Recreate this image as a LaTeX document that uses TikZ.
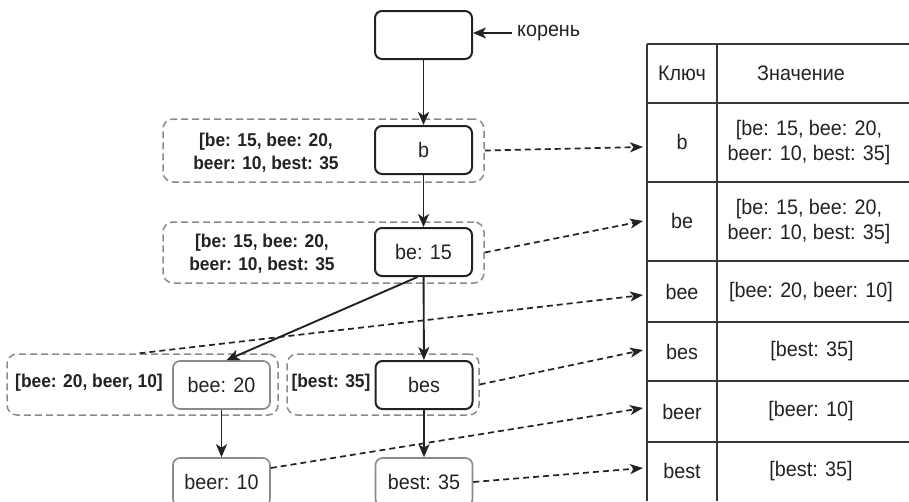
\documentclass[tikz,border=0pt]{standalone}
\usepackage{fontspec}
\setmainfont{Liberation Sans}[FakeStretch=0.94]
\usetikzlibrary{arrows.meta,calc}
\definecolor{boxgray}{HTML}{8A8A8A}
\definecolor{ink}{HTML}{222222}
\begin{document}
\begin{tikzpicture}[x=1pt,y=-1pt,
  txt/.style={font=\fontsize{21}{25}\selectfont, text=ink, align=center, inner sep=0pt},
  grptxt/.style={font=\fontsize{18.5}{23}\selectfont\bfseries, text=ink, align=center, inner sep=0pt},
  keybox/.style={draw=ink, line width=2pt, rounded corners=7pt, minimum width=97pt, minimum height=48pt,
    inner sep=0pt, font=\fontsize{21}{25}\selectfont, text=ink},
  leafbox/.style={keybox, draw=boxgray, line width=1.6pt},
  group/.style={draw=boxgray, line width=1.5pt, dash pattern=on 7pt off 4pt, rounded corners=10pt,
    inner sep=0pt},
  link/.style={draw=ink, line width=1.9pt, -{Stealth[length=13pt,width=11pt,inset=3.5pt]}},
  ref/.style={draw=ink, line width=1.7pt, dash pattern=on 6pt off 4pt, -{Stealth[length=13pt,width=10pt,inset=3.5pt]}},
  grid/.style={draw=ink!90, line width=1.5pt}]
\useasboundingbox (0,0) rectangle (909,501);
\clip (0,0) rectangle (909,501);

% dashed groups of each node's stored result
\node[group, minimum width=321pt, minimum height=63pt] (g1) at (323.5,150.5) {};
\node[group, minimum width=321pt, minimum height=61pt] (g2) at (323.5,252.5) {};
\node[group, minimum width=271pt, minimum height=61pt] (g3) at (142.5,384.5) {};
\node[group, minimum width=192pt, minimum height=61pt] (g4) at (383,384.5) {};

\node[grptxt] (g1t) at (266,153) {[be: 15, bee: 20,\\beer: 10, best: 35};
\node[grptxt] (g2t) at (262,254) {[be: 15, bee: 20,\\beer: 10, best: 35};
\node[grptxt] (g3t) at (89,383) {[bee: 20, beer, 10]};
\node[grptxt] (g4t) at (331,383) {[best: 35]};

% trie nodes
\node[keybox] (root) at (423.5,35) {};
\node[keybox] (b) at (423.5,150) {b};
\node[keybox] (be) at (423.5,252) {be: 15};
\node[leafbox] (bee) at (221.5,385) {bee: 20};
\node[keybox] (bes) at (424,385) {bes};
\node[leafbox] (beer) at (221.5,482) {beer: 10};
\node[leafbox] (best) at (424,482) {best: 35};

\node[txt, anchor=west] (lbl) at (517,33) {корень};

% tree edges
\draw[link] ([xshift=-5pt]lbl.west) -- (root.east |- lbl.west);
\draw[link] (root) -- (b);
\draw[link] (b) -- (be);
\draw[link] (be) -- (bes);
\draw[link] ([xshift=-6pt]be.south) -- ([xshift=5pt]bee.north);
\draw[link] (bee) -- (beer);
\draw[link] (bes) -- (best);

% lookup table
\draw[grid] (647,44) -- (647,501) (717,44) -- (717,501);
\foreach \yy in {44,103,182,261,322,381,442}
  \draw[grid] (647,\yy) -- (909,\yy);

\node[txt] (hk) at (682,73) {Ключ};
\node[txt] (hv) at (801,73) {Значение};
\node[txt] (kb) at (682,142) {b};
\node[txt] (vb) at (809,143) {[be: 15, bee: 20,\\beer: 10, best: 35]};
\node[txt] (kbe) at (682,221) {be};
\node[txt] (vbe) at (809,222) {[be: 15, bee: 20,\\beer: 10, best: 35]};
\node[txt] (kbee) at (682,292) {bee};
\node[txt] (vbee) at (811,292) {[bee: 20, beer: 10]};
\node[txt] (kbes) at (682,352) {bes};
\node[txt] (vbes) at (812,351) {[best: 35]};
\node[txt] (kbeer) at (682,412) {beer};
\node[txt] (vbeer) at (811,411) {[beer: 10]};
\node[txt] (kbest) at (682,471) {best};
\node[txt] (vbest) at (811,471) {[best: 35]};

% arrow ends in front of the table rows
\coordinate (tb) at (643,147);
\coordinate (tbe) at (643,221);
\coordinate (tbee) at (643,295);
\coordinate (tbes) at (643,350);
\coordinate (tbeer) at (643,408);
\coordinate (tbest) at (643,468);

\draw[ref] (g1.east) -- (tb);
\draw[ref] (g2.east) -- (tbe);
\draw[ref] ([xshift=-3pt]g3.north) -- (tbee);
\draw[ref] (g4.east) -- (tbes);
\draw[ref] ([yshift=14pt]beer.east) -- (tbeer);
\draw[ref] (best.east) -- (tbest);
\end{tikzpicture}
\end{document}
